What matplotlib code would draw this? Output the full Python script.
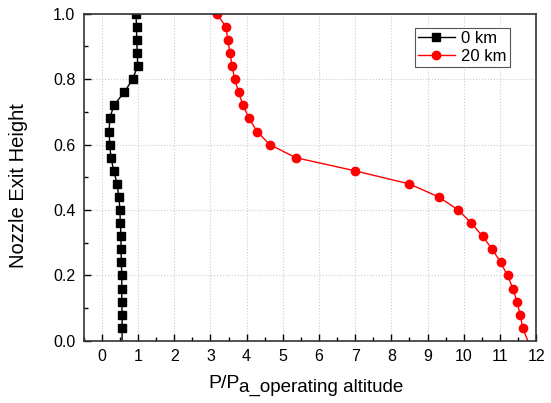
import matplotlib
matplotlib.use("Agg")
import matplotlib.pyplot as plt
from matplotlib.ticker import MultipleLocator

plt.rcParams['font.family'] = ['Liberation Sans', 'DejaVu Sans']

# nozzle exit height (normalised), same sampling for both cases
height = [0.0, 0.04, 0.08, 0.12, 0.16, 0.20, 0.24, 0.28, 0.32, 0.36, 0.40,
          0.44, 0.48, 0.52, 0.56, 0.60, 0.64, 0.68, 0.72, 0.76, 0.80,
          0.84, 0.88, 0.92, 0.96, 1.0]

p_0km = [0.56, 0.56, 0.56, 0.55, 0.55, 0.55, 0.54, 0.53, 0.53, 0.51, 0.50,
         0.47, 0.42, 0.33, 0.25, 0.22, 0.20, 0.22, 0.33, 0.62, 0.85,
         0.99, 0.98, 0.96, 0.96, 0.94]

p_20km = [11.77, 11.63, 11.56, 11.47, 11.36, 11.21, 11.02, 10.79, 10.52, 10.21, 9.85,
          9.31, 8.49, 6.99, 5.36, 4.64, 4.29, 4.07, 3.90, 3.78, 3.67,
          3.60, 3.54, 3.48, 3.43, 3.17]

fig = plt.figure(figsize=(5.51, 4.03), dpi=100)
ax = fig.add_axes([0.152, 0.154, 0.821, 0.812])

# first point (exit plane edge) drawn without a marker
marks = list(range(1, len(height)))
ax.plot(p_0km, height, color='black', lw=1.0, marker='s', ms=5.5,
        markevery=marks, label='0 km')
ax.plot(p_20km, height, color='red', lw=1.0, marker='o', ms=6,
        markevery=marks, label='20 km')

ax.set_xlim(-0.5, 12)
ax.set_ylim(0, 1.0)
ax.xaxis.set_major_locator(MultipleLocator(1))
ax.xaxis.set_minor_locator(MultipleLocator(0.5))
ax.yaxis.set_major_locator(MultipleLocator(0.2))
ax.yaxis.set_minor_locator(MultipleLocator(0.1))
ax.yaxis.set_major_formatter(plt.FormatStrFormatter('%.1f'))
ax.tick_params(which='both', direction='in', top=False, right=False,
               labelsize=11.5, width=1.0, pad=6)
ax.tick_params(which='major', length=5)
ax.tick_params(which='minor', length=3)
ax.grid(True, which='major', color='#cccccc', linestyle=':', lw=0.8)
for s in ax.spines.values():
    s.set_linewidth(1.2)
    s.set_color('#333333')

ax.set_ylabel('Nozzle Exit Height', fontsize=14.5)
ax.yaxis.set_label_coords(-0.124, 0.475)

# x label: P/P with a large, lowered subscript
t1 = fig.text(208 / 551, 1 - 388 / 403, 'P/P', fontsize=14,
              ha='left', va='baseline')
ax.annotate('a_operating altitude', xy=(1, 0), xycoords=t1,
            xytext=(0, -3), textcoords='offset points', fontsize=13.5,
            ha='left', va='bottom', annotation_clip=False)

leg = ax.legend(loc='upper right', bbox_to_anchor=(0.9425, 0.957), fontsize=12,
                fancybox=False, framealpha=1, edgecolor='#555555',
                borderpad=0.2, handlelength=2.2, handletextpad=0.4,
                labelspacing=0.15, borderaxespad=0)
leg.get_frame().set_linewidth(0.8)

fig.savefig('out.png', dpi=100)
